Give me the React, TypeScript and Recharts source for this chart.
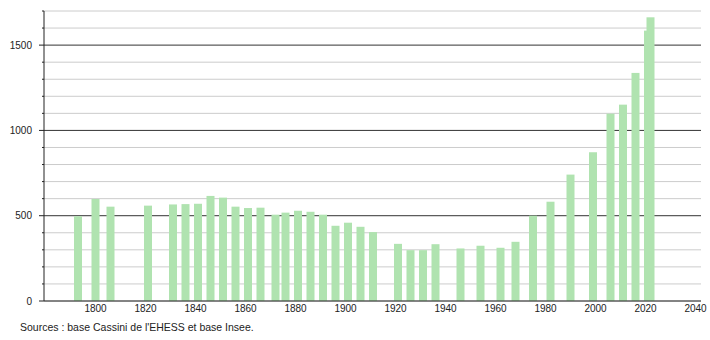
import { BarChart, Bar, XAxis, YAxis, CartesianGrid } from "recharts";

// Population by census year
const years = [
  1793, 1800, 1806, 1821, 1831, 1836, 1841, 1846, 1851, 1856, 1861, 1866, 1872,
  1876, 1881, 1886, 1891, 1896, 1901, 1906, 1911, 1921, 1926, 1931, 1936, 1946,
  1954, 1962, 1968, 1975, 1982, 1990, 1999, 2006, 2011, 2016, 2021, 2022,
];
const population = [
  497, 598, 553, 559, 566, 568, 570, 616, 606, 553, 545, 547, 506,
  518, 529, 523, 506, 441, 459, 435, 404, 335, 298, 298, 333, 308,
  324, 312, 347, 500, 582, 741, 872, 1098, 1151, 1337, 1585, 1663,
];
const xTicks = [1800, 1820, 1840, 1860, 1880, 1900, 1920, 1940, 1960, 1980, 2000, 2020, 2040];
const yTicks = [0, 100, 200, 300, 400, 500, 600, 700, 800, 900, 1000, 1100, 1200, 1300, 1400, 1500, 1600, 1700];
const yLabels = [0, 500, 1000, 1500];
const sourceText = "Sources : base Cassini de l'EHESS et base Insee.";

const data = years.map((year, i) => ({ year, pop: population[i] }));

const barColor = "#b0e3b0";
const font = "'Liberation Sans', Arial, sans-serif";

// bars are 8px wide no matter how close the census years are
function PopBar(props: any) {
  const { x, y, width, height } = props;
  if (!height || height <= 0) return null;
  const cx = x + width / 2;
  return <rect x={cx - 4} y={y} width={8} height={height} fill={barColor} />;
}

function YTick(props: any) {
  const { x, y, payload } = props;
  const major = yLabels.includes(payload.value);
  return (
    <g>
      <line x1={x - (major ? 5 : 2)} x2={x} y1={y} y2={y} stroke="#222" />
      {major && (
        <text x={x - 12} y={y} dy="0.35em" textAnchor="end" fontSize={10} fill="#222" fontFamily={font}>
          {payload.value}
        </text>
      )}
    </g>
  );
}

function GridLine(props: any) {
  const { x1, x2, y1, y2, index } = props;
  const v = yTicks[index];
  const major = v > 0 && v % 500 === 0;
  return <line x1={x1} x2={x2} y1={y1} y2={y2} stroke={major ? "#333" : "#cccccc"} strokeWidth={1} />;
}

export default function App() {
  return (
    <div style={{ position: "absolute", left: 0, top: 0, width: 710, height: 340, background: "#fff" }}>
      <BarChart width={710} height={340} data={data} margin={{ top: 11, right: 9, left: 0, bottom: 19 }}>
        <CartesianGrid vertical={false} horizontal={GridLine} />
        <XAxis
          dataKey="year"
          type="number"
          domain={[1779.4, 2042.2]}
          allowDataOverflow
          ticks={xTicks}
          height={20}
          tickLine={false}
          tickSize={0}
          tickMargin={4}
          axisLine={{ stroke: "#222" }}
          tick={{ fontSize: 10, fill: "#222", fontFamily: font }}
        />
        <YAxis
          type="number"
          domain={[0, 1700]}
          ticks={yTicks}
          width={44}
          tickLine={false}
          tickSize={0}
          tickMargin={0}
          axisLine={{ stroke: "#222" }}
          tick={YTick}
          interval={0}
        />
        <Bar dataKey="pop" shape={PopBar} isAnimationActive={false} />
      </BarChart>
      <div
        style={{
          position: "absolute",
          left: 20,
          top: 321,
          fontSize: 10.5,
          fontFamily: font,
          color: "#222",
          whiteSpace: "nowrap",
        }}
      >
        {sourceText}
      </div>
    </div>
  );
}
